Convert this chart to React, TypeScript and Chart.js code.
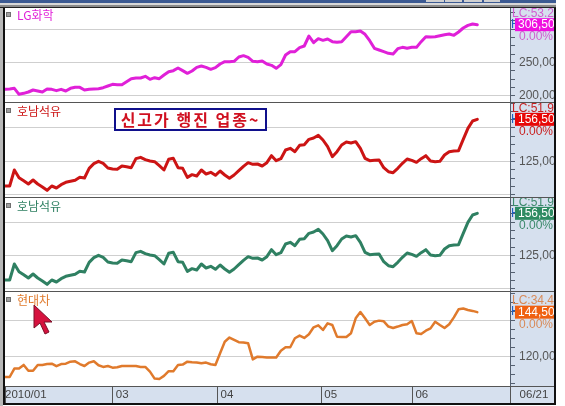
import React, { useEffect, useRef } from "react";
import { Chart, registerables } from "chart.js";

Chart.register(...registerables);

const FONT = "'Liberation Sans', Arial, sans-serif";
const KFONT = "'Noto Sans CJK KR', 'Noto Sans', sans-serif";

const lastIndex = 108;
const tickPositions = [0, 23, 45.4, 67.6, 87.1, 108];
const tickLabels = ["2010/01", " 03", " 04", " 05", " 06", "   06/21"];

const lgChemValues = [
  209.5, 210, 211, 202, 203.5, 205.5, 208.5, 207, 205.5, 210, 209.5, 207.5, 209.5, 207, 211, 212.5, 212.5, 208.5, 209.5, 210,
  210.5, 212, 214.5, 217, 216.5, 216.5, 221, 225.5, 226.5, 226.5, 229, 224.5, 227, 225.5, 231, 236, 237.5, 241.5, 237.5, 233.5,
  237, 242.5, 244.5, 242.5, 239.5, 242, 247.5, 251, 251, 251.5, 258, 260, 257.5, 251.5, 251, 252, 247.5, 245.5, 241, 246.5,
  261, 266, 266, 272, 274.5, 289.5, 279.5, 285.5, 283, 285, 281, 280, 281, 288.5, 296, 296, 297, 292, 282.5, 271,
  268.5, 266, 263.5, 262.5, 270.5, 272.5, 271, 272.5, 272.5, 281, 288.5, 288, 288.5, 290, 291.5, 292.5, 290.5, 295.5, 301.5, 305.5,
  307.5, 306.5,
].map((v) => v * 1000);

const honamValues = [
  106.5, 106.5, 118.5, 112.75, 110.5, 108, 111, 108, 105.75, 103.25, 106.5, 105, 107.5, 109.25, 110, 110.75, 113, 112.5, 119.75, 123.25,
  125, 123.5, 120, 119.25, 119, 121.5, 121, 120.25, 127, 128, 126.25, 125.25, 124.75, 121.75, 118.5, 126.5, 127.25, 120.25, 119.75, 113,
  115, 114, 118.5, 115.5, 116.75, 114.5, 117.75, 114.75, 112.25, 114.75, 118, 121.25, 124, 122.75, 123, 121.5, 124, 129.25, 125.5, 127,
  133.5, 134.75, 132.25, 137, 137.5, 141.5, 142.5, 144.5, 141, 136, 128.5, 132.25, 137.25, 139.5, 138.75, 139.75, 134.75, 127.25, 125.5, 125.75,
  126, 120.25, 117.25, 116.5, 119.75, 123.5, 126.75, 125.75, 124.25, 127, 129.25, 125.25, 124.75, 125, 129.75, 132.25, 132.75, 133, 141.5, 149.75,
  155.25, 156.5,
].map((v) => v * 1000);

const hyundaiValues = [
  108.5, 108.5, 113.2, 113.2, 115.2, 112, 112, 115.2, 115.2, 115.7, 115.9, 114.5, 115.7, 115.9, 117, 117.2, 115.7, 114.6, 116.5, 117.2,
  115, 114.1, 114.6, 113.7, 113.9, 114.6, 114.6, 114.6, 114.6, 114.1, 114.1, 111.5, 107.6, 107.4, 109.1, 111.7, 111.7, 115.2, 115.4, 117,
  116.7, 116.5, 116.1, 116.5, 115.6, 115.2, 121.7, 128.1, 130.4, 129.1, 127.8, 127.6, 127.2, 118.3, 119.8, 119.6, 119.3, 119.3, 119.3, 123.1,
  125, 125, 130, 131.5, 130.2, 132.2, 136.1, 137.2, 134.6, 138.3, 137.4, 130.9, 130.7, 130.7, 132.8, 141.1, 144.6, 141.1, 137.4, 139.2,
  139.8, 139.4, 136.5, 135.7, 136.5, 137.4, 137.8, 139.6, 132.8, 132.4, 134.2, 135.5, 139.2, 137.4, 135.7, 137.8, 141.6, 146.1, 146.5, 145.7,
  145.2, 144.5,
].map((v) => v * 1000);

type PanelSpec = {
  name: string;
  values: number[];
  color: string;
  boxColor: string;
  lineWidth: number;
  top: number;
  height: number;
  min: number;
  max: number;
  step: number;
  major: number;
  labels: number[];
  lc: string;
  price: string;
  pct: string;
  lcColor: string;
  nameY: number;
  showX: boolean;
};

const panels: PanelSpec[] = [
  { name: "LG화학", values: lgChemValues, color: "#e020d8", boxColor: "#f010e0", lineWidth: 3, top: 8, height: 94, min: 190500, max: 331500, step: 12500, major: 50000, labels: [200000, 250000], lc: "LC:53.2", price: "306,500", pct: "0.00%", lcColor: "#d060d0", nameY: 7, showX: false },
  { name: "호남석유", values: honamValues, color: "#cc1414", boxColor: "#e80808", lineWidth: 3, top: 102, height: 95, min: 98250, max: 169500, step: 6250, major: 25000, labels: [125000], lc: "LC:51.9", price: "156,500", pct: "0.00%", lcColor: "#c82020", nameY: 9, showX: false },
  { name: "호남석유", values: honamValues, color: "#2f8062", boxColor: "#2e8b62", lineWidth: 3, top: 197, height: 94, min: 98250, max: 168750, step: 6250, major: 25000, labels: [125000], lc: "LC:51.9", price: "156,500", pct: "0.00%", lcColor: "#3c8a6c", nameY: 9, showX: false },
  { name: "현대차", values: hyundaiValues, color: "#e07a2c", boxColor: "#f06010", lineWidth: 2.5, top: 291, height: 112, min: 103500, max: 156250, step: 5000, major: 20000, labels: [120000], lc: "LC:34.4", price: "144,500", pct: "0.00%", lcColor: "#d88a58", nameY: 9, showX: true },
];

function PanelChart({ spec }: { spec: PanelSpec }) {
  const ref = useRef<HTMLCanvasElement>(null);
  useEffect(() => {
    const paper = {
      id: "paper",
      beforeDraw(c: any) {
        const { left, top, width, height } = c.chartArea;
        c.ctx.save();
        c.ctx.fillStyle = "#ffffff";
        c.ctx.fillRect(left, top, width, height);
        c.ctx.restore();
      },
    };
    const quote = {
      id: "quote",
      afterDraw(c: any) {
        const ctx = c.ctx;
        const last = spec.values[spec.values.length - 1];
        const y = c.scales.y.getPixelForValue(last);
        ctx.save();
        ctx.textBaseline = "middle";
        ctx.font = `12px ${KFONT}`;
        ctx.fillStyle = "#a0a0a0";
        ctx.strokeStyle = "#707070";
        ctx.fillRect(6.5, spec.nameY - 2.5, 4, 4);
        ctx.strokeRect(6.5, spec.nameY - 2.5, 4, 4);
        ctx.fillStyle = spec.color;
        ctx.fillText(spec.name, 17, spec.nameY);
        ctx.font = `12px ${FONT}`;
        ctx.fillStyle = "#2060c0";
        ctx.fillText("H", 511, y);
        ctx.fillStyle = spec.lcColor;
        ctx.fillText(spec.lc, 512, y - 11);
        ctx.fillStyle = spec.boxColor;
        ctx.fillRect(515, y - 6.5, 40, 13);
        ctx.fillStyle = "#ffffff";
        ctx.fillText(spec.price, 518, y + 0.5);
        ctx.fillStyle = spec.lcColor;
        ctx.fillText(spec.pct, 519, y + 12.5);
        ctx.restore();
      },
    };
    const chart = new Chart(ref.current!, {
      type: "line",
      data: {
        datasets: [
          {
            label: spec.name,
            data: spec.values.map((y, x) => ({ x, y })),
            borderColor: spec.color,
            borderWidth: spec.lineWidth,
            pointRadius: 0,
            tension: 0,
            borderJoinStyle: "round",
            borderCapStyle: "round",
          },
        ],
      },
      options: {
        animation: false,
        responsive: false,
        layout: { autoPadding: false, padding: { left: 5, right: 0, top: 0, bottom: 0 } },
        plugins: {
          tooltip: { enabled: false },
          legend: { display: false },
        } as any,
        scales: {
          x: {
            type: "linear",
            min: 0,
            max: lastIndex,
            display: spec.showX,
            afterBuildTicks: (s: any) => {
              s.ticks = tickPositions.map((value) => ({ value }));
            },
            afterFit: (s: any) => {
              s.height = spec.showX ? 17 : 0;
              s.paddingLeft = 0;
              s.paddingRight = 0;
            },
            border: { color: "#555555" },
            grid: { drawOnChartArea: false, tickLength: 17, color: "#555555" },
            ticks: {
              autoSkip: false,
              maxRotation: 0,
              minRotation: 0,
              align: "start",
              padding: -15,
              color: "#444444",
              font: { family: FONT, size: 11.5 },
              callback: (v: any) => tickLabels[tickPositions.indexOf(Number(v))],
            },
          },
          y: {
            position: "right",
            min: spec.min,
            max: spec.max,
            afterBuildTicks: (s: any) => {
              const out: { value: number }[] = [];
              for (let v = Math.ceil(spec.min / spec.step) * spec.step; v <= spec.max; v += spec.step) out.push({ value: v });
              s.ticks = out;
            },
            afterFit: (s: any) => {
              s.width = 44;
              s.paddingTop = 0;
              s.paddingBottom = 0;
            },
            border: { color: "#556070" },
            grid: {
              tickLength: 5,
              color: (ctx: any) => (ctx.tick && ctx.tick.value % spec.major === 0 ? "#cfcfcf" : "rgba(0,0,0,0)"),
              tickColor: "#556070",
            },
            ticks: {
              autoSkip: false,
              padding: 4,
              color: "#555555",
              font: { family: FONT, size: 12 },
              callback: (v: any) => (spec.labels.includes(Number(v)) ? Number(v).toLocaleString("en-US") : ""),
            },
          },
        },
      } as any,
      plugins: [paper, quote],
    });
    return () => chart.destroy();
  }, [spec]);
  return (
    <canvas
      ref={ref}
      width={554}
      height={spec.height}
      style={{ position: "absolute", left: 0, top: spec.top, width: 554, height: spec.height, background: "#d6e0ee", display: "block" }}
    />
  );
}

const bar = (left: number, top: number, width: number, height: number, background: string) => (
  <div key={`${left}-${top}-${width}`} style={{ position: "absolute", left, top, width, height, background }} />
);

export default function App() {
  return (
    <div style={{ position: "absolute", left: 0, top: 0, width: 565, height: 406, background: "#ffffff", overflow: "hidden" }}>
      {panels.map((p) => (
        <PanelChart key={p.top} spec={p} />
      ))}
      {bar(0, 0, 556, 3, "#3c5a92")}
      {bar(0, 3, 556, 2, "#d8d8d8")}
      {bar(0, 5, 556, 2, "#8a8a8a")}
      {bar(0, 7, 556, 1, "#222222")}
      {bar(426, 0, 18, 2, "#d0d0d0")}
      {bar(445, 0, 17, 2, "#d0d0d0")}
      {bar(464, 0, 18, 2, "#d0d0d0")}
      {bar(484, 0, 16, 2, "#d0d0d0")}
      {bar(0, 8, 3, 398, "#b8b8b8")}
      {bar(3, 8, 2, 397, "#111111")}
      {bar(554, 8, 2, 397, "#111111")}
      {bar(3, 403, 553, 2, "#111111")}
      {bar(5, 102, 549, 1, "#555555")}
      {bar(5, 197, 549, 1, "#555555")}
      {bar(5, 291, 549, 1, "#555555")}
      {bar(5, 386, 549, 1, "#555555")}
      <div
        style={{
          position: "absolute",
          left: 114,
          top: 108,
          width: 149,
          height: 19,
          border: "2px solid #10108c",
          color: "#d01020",
          fontFamily: KFONT,
          fontWeight: 700,
          fontSize: 16,
          letterSpacing: 2,
          lineHeight: "19px",
          textAlign: "center",
          whiteSpace: "nowrap",
          background: "#ffffff",
        }}
      >
        신고가 행진 업종~
      </div>
      <svg width={565} height={406} style={{ position: "absolute", left: 0, top: 0, pointerEvents: "none" }}>
        <polygon points="34,305 52,322 44,322 49,332 45,334 40,323 34,328" fill="#d6123e" stroke="#7a1028" strokeWidth={1} />
      </svg>
    </div>
  );
}
